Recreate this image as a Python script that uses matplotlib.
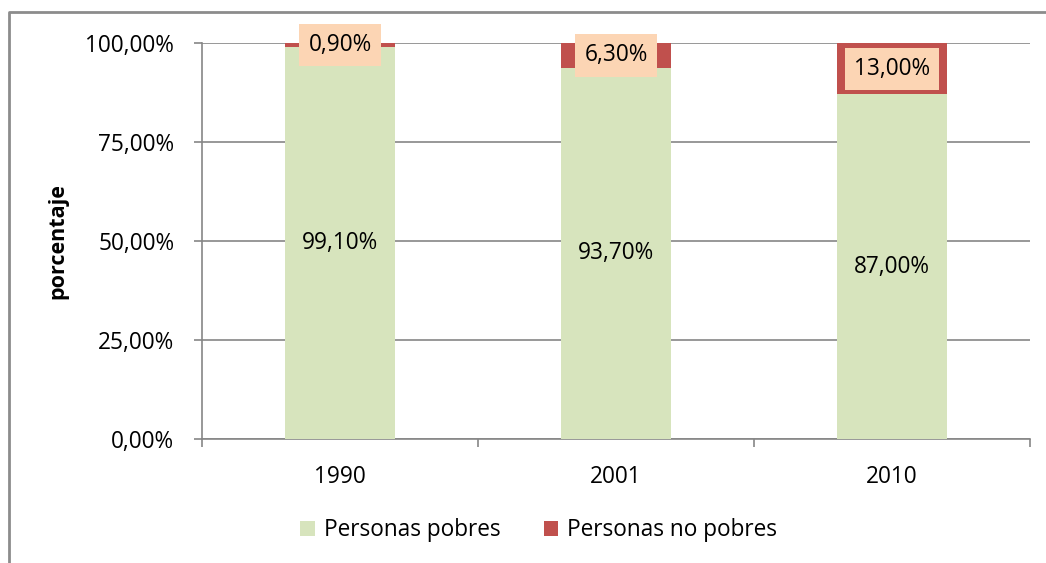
import numpy as np
import matplotlib
matplotlib.use("Agg")
import matplotlib.pyplot as plt
from matplotlib.lines import Line2D
from matplotlib.ticker import FuncFormatter

plt.rcParams['font.family'] = ['Open Sans', 'DejaVu Sans']

# Data
years = ['1990', '2001', '2010']
pobres = [99.10, 93.70, 87.00]
no_pobres = [0.90, 6.30, 13.00]
yticks = [0, 25, 50, 75, 100]

green = '#D7E4BD'
red = '#C0504D'
peach = '#FCD5B4'
gray = '#868686'
fs = 16.3

fig = plt.figure(figsize=(10.46, 5.63), dpi=100)
ax = fig.add_axes([202/1046, 1 - 439/563, 828/1046, 396/563])

x = np.arange(len(years))
b1 = ax.bar(x, pobres, width=0.4, color=green, label='Personas pobres', zorder=3)
b2 = ax.bar(x, no_pobres, width=0.4, bottom=pobres, color=red,
            label='Personas no pobres', zorder=3)

def fmt(v):
    return f"{v:.2f}".replace('.', ',') + '%'

for xi, p, n in zip(x, pobres, no_pobres):
    ax.text(xi, p / 2, fmt(p), ha='center', va='center', fontsize=fs, zorder=4)
    ax.text(xi, p + n / 2, fmt(n), ha='center', va='center', fontsize=fs, zorder=5,
            bbox=dict(boxstyle='square,pad=0.4', fc=peach, ec='none'))

ax.set_xlim(-0.5, 2.5)
ax.set_ylim(0, 100)
ax.set_yticks(yticks)
ax.yaxis.set_major_formatter(FuncFormatter(lambda v, _: fmt(v)))
ax.set_xticks(x)
ax.set_xticklabels(years)
ax.set_xticks([-0.5, 0.5, 1.5, 2.5], minor=True)
ax.tick_params(axis='x', which='major', length=0, pad=19, labelsize=fs)
ax.tick_params(axis='x', which='minor', length=6, width=1.2, color=gray, direction='out')
ax.tick_params(axis='y', length=6, width=1.2, color=gray, pad=14, labelsize=fs)

ax.grid(axis='y', color=gray, linewidth=1.2, zorder=0)
for s in ['top', 'right']:
    ax.spines[s].set_visible(False)
for s in ['left', 'bottom']:
    ax.spines[s].set_color(gray)
    ax.spines[s].set_linewidth(1.2)

ax.set_ylabel('porcentaje', fontsize=15.5, fontweight='bold')
ax.yaxis.set_label_coords(-0.161, 0.5)

fig.legend(handles=[b1, b2], loc='center', bbox_to_anchor=(0.515, 0.058),
           ncol=2, frameon=False, fontsize=fs, handlelength=0.65,
           handleheight=0.65, handletextpad=0.4, columnspacing=1.9)

# outer chart border (top and left visible)
fig.add_artist(Line2D([9/1046, 9/1046, 1], [0, 1 - 12/563, 1 - 12/563],
                      transform=fig.transFigure, color='#8C8C8C', linewidth=2))

fig.savefig('out.png', dpi=100)
